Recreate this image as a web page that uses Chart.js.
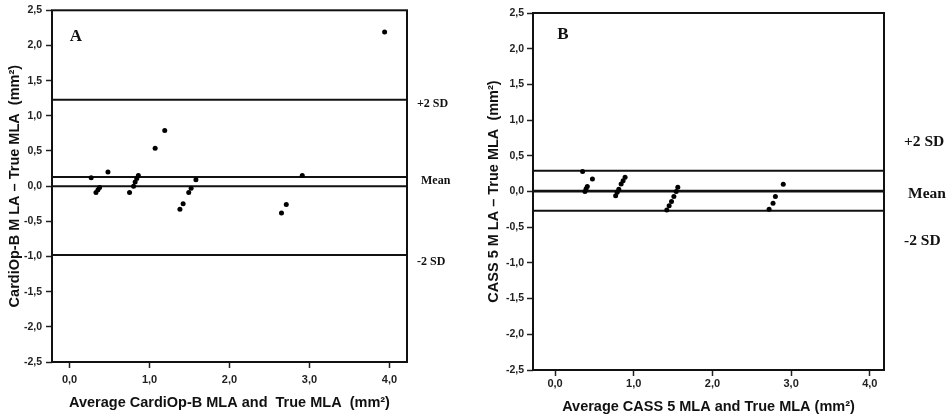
<!DOCTYPE html>
<html>
<head>
<meta charset="utf-8">
<script src="https://cdn.jsdelivr.net/npm/chart.js@4/dist/chart.umd.min.js"></script>
<style>
  html, body { margin: 0; padding: 0; background: #fff; }
  #wrap { position: relative; width: 952px; height: 417px; overflow: hidden; }
  canvas { position: absolute; top: 0; }
  #cA { left: 0; }
  #cB { left: 476px; }
</style>
</head>
<body>
<div id="wrap">
  <canvas id="cA" width="476" height="417"></canvas>
  <canvas id="cB" width="476" height="417"></canvas>
</div>
<script>
// Axis ticks shared by both panels
const xTickValues = [0, 1, 2, 3, 4];
const yTickStep = 0.5;
const yRange = [-2.5, 2.5];

// Panel A: CardiOp-B vs true MLA (mean of both, difference)
const avgA  = [3.94, 1.19, 1.07, 0.48, 0.27, 0.375, 0.355, 0.33, 0.75, 0.86, 0.84, 0.82, 0.80, 1.58, 1.52, 1.49, 1.42, 1.38, 2.91, 2.71, 2.65];
const diffA = [2.19, 0.79, 0.54, 0.20, 0.12, -0.02, -0.05, -0.09, -0.09, 0.15, 0.11, 0.06, 0.00, 0.09, -0.03, -0.09, -0.25, -0.33, 0.15, -0.26, -0.38];

// Panel B: CASS 5 vs true MLA
const avgB  = [0.35, 0.475, 0.41, 0.395, 0.38, 0.89, 0.865, 0.84, 0.81, 0.79, 0.77, 1.56, 1.54, 1.51, 1.48, 1.45, 1.42, 2.90, 2.80, 2.77, 2.72];
const diffB = [0.28, 0.175, 0.07, 0.04, 0.00, 0.20, 0.15, 0.105, 0.03, -0.01, -0.06, 0.06, 0.00, -0.07, -0.14, -0.20, -0.26, 0.10, -0.07, -0.165, -0.25];

// Limits of agreement: +2 SD, mean, -2 SD
const limitNames = ['+2 SD', 'Mean', '-2 SD'];
const limitsA = [1.23, 0.13, -0.98];
const limitsB = [0.29, 0.01, -0.27];
const zeroLine = 0;

const fmt = v => (Math.round(v * 10) / 10).toFixed(1).replace('.', ',').replace('-0,0', '0,0');

// Frame, panel letter and limit labels
const annotate = {
  id: 'annotate',
  afterDraw(chart, args, o) {
    const { ctx, chartArea: a, scales: { y } } = chart;
    ctx.save();
    ctx.strokeStyle = '#111';
    ctx.lineWidth = 2;
    ctx.strokeRect(a.left, a.top, a.right - a.left, a.bottom - a.top);
    ctx.fillStyle = '#111';
    ctx.textBaseline = 'middle';
    ctx.textAlign = 'center';
    ctx.font = 'bold ' + o.letterSize + 'px "Liberation Serif", "Times New Roman", serif';
    ctx.fillText(o.letter, a.left + o.letterDx, a.top + o.letterDy);
    ctx.textAlign = 'left';
    ctx.font = 'bold ' + o.sdSize + 'px "Liberation Serif", "Times New Roman", serif';
    limitNames.forEach((t, i) => {
      ctx.fillText(t, a.right + o.sdDx + o.sdShift[i], y.getPixelForValue(o.sdY[i]));
    });
    ctx.restore();
  }
};

function makePanel(canvasId, avg, diff, limits, cfg) {
  const pts = avg.map((x, i) => ({ x: x, y: diff[i] }));
  const hLine = v => ({
    type: 'line',
    data: [{ x: cfg.xMin, y: v }, { x: cfg.xMax, y: v }],
    borderColor: '#111',
    borderWidth: 2,
    pointRadius: 0,
    fill: false,
    order: 2
  });
  const datasets = [
    { type: 'scatter', data: pts, pointRadius: 2.5, pointBackgroundColor: '#000', pointBorderWidth: 0, order: 1 },
    hLine(zeroLine)
  ].concat(limits.map(hLine));

  const sans = '"Liberation Sans", Arial, sans-serif';
  return new Chart(document.getElementById(canvasId), {
    data: { datasets: datasets },
    options: {
      responsive: false,
      animation: false,
      events: [],
      layout: { padding: { left: 0, top: cfg.top, right: cfg.right, bottom: 0 } },
      plugins: {
        legend: { display: false },
        tooltip: { enabled: false },
        annotate: cfg.annot
      },
      scales: {
        x: {
          type: 'linear',
          min: cfg.xMin,
          max: cfg.xMax,
          afterBuildTicks: s => { s.ticks = xTickValues.map(v => ({ value: v })); },
          afterFit: s => { s.height = cfg.xAxisH; },
          border: { display: false },
          grid: { drawOnChartArea: false, drawTicks: true, tickLength: 6, tickColor: '#222', tickWidth: 1.5 },
          ticks: { callback: v => fmt(v), color: '#222', padding: cfg.xTickPad, maxRotation: 0, autoSkip: false,
                   font: { family: sans, size: 11, weight: 'bold' } },
          title: { display: true, text: cfg.xTitle, color: '#111',
                   padding: { top: 0, bottom: cfg.xTitlePad },
                   font: { family: sans, size: 14.5, weight: 'bold' } }
        },
        y: {
          type: 'linear',
          min: yRange[0],
          max: yRange[1],
          afterFit: s => { s.width = cfg.yAxisW; },
          border: { display: false },
          grid: { drawOnChartArea: false, drawTicks: true, tickLength: 6, tickColor: '#222', tickWidth: 1.5 },
          ticks: { stepSize: yTickStep, callback: v => fmt(v), color: '#222', padding: cfg.yTickPad,
                   font: { family: sans, size: 10.5, weight: 'bold' } },
          title: { display: true, text: cfg.yTitle, color: '#111',
                   padding: { top: cfg.yTitlePad, bottom: 0 },
                   font: { family: sans, size: 14.5, weight: 'bold' } }
        }
      }
    },
    plugins: [annotate]
  });
}

makePanel('cA', avgA, diffA, limitsA, {
  xMin: -0.22, xMax: 4.22,
  top: 9, right: 69, xAxisH: 55, yAxisW: 52,
  xTickPad: 5, yTickPad: 4, xTitlePad: 5, yTitlePad: 6,
  xTitle: 'Average CardiOp-B MLA and  True MLA  (mm\u00B2)',
  yTitle: 'CardiOp-B M LA \u2013 True MLA  (mm\u00B2)',
  annot: { letter: 'A', letterSize: 17, letterDx: 24, letterDy: 26.5,
           sdSize: 12, sdDx: 10, sdShift: [0, 4, 0], sdY: [1.17, 0.08, -1.08] }
});

makePanel('cB', avgB, diffB, limitsB, {
  xMin: -0.28, xMax: 4.18,
  top: 13, right: 68, xAxisH: 47, yAxisW: 57,
  xTickPad: 1, yTickPad: 3, xTitlePad: 1, yTitlePad: 9,
  xTitle: 'Average CASS 5 MLA and True MLA (mm\u00B2)',
  yTitle: 'CASS 5 M LA \u2013 True MLA  (mm\u00B2)',
  annot: { letter: 'B', letterSize: 17, letterDx: 30, letterDy: 21.5,
           sdSize: 15.5, sdDx: 20, sdShift: [0, 4, 0], sdY: [0.70, -0.04, -0.70] }
});
</script>
</body>
</html>
